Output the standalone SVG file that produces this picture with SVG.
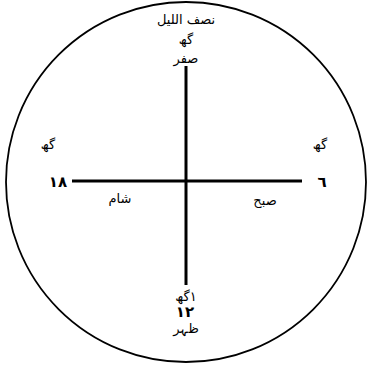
<svg xmlns="http://www.w3.org/2000/svg" width="372" height="365" viewBox="0 0 372 365">
<style>
text{font-family:"DejaVu Sans","Noto Sans",sans-serif;fill:#000;text-anchor:middle}
.l{font-size:13px}
.n{font-size:15px;font-weight:bold}
.ax{stroke:#000;stroke-width:3;fill:none}
</style>
<rect width="372" height="365" fill="#fff"/>
<g id="dial"><ellipse cx="186" cy="182" rx="180" ry="180" fill="none" stroke="#000" stroke-width="1.8"/></g>
<g id="connectors">
<line class="ax" x1="72" y1="181" x2="302" y2="181"/>
<line class="ax" x1="186" y1="66" x2="186" y2="285"/>
</g>
<g id="top">
<text class="l" x="186" y="24" direction="rtl">نصف اللیل</text>
<text class="l" x="186" y="44" direction="rtl">گھ</text>
<text class="l" x="186" y="63" direction="rtl">صفر</text>
</g>
<g id="bottom">
<text class="l" x="186" y="301" direction="rtl">١گھ</text>
<text class="n" x="185" y="317">١٢</text>
<text class="l" x="186" y="333" direction="rtl">ظہر</text>
</g>
<g id="left">
<text class="l" x="48" y="149" direction="rtl">گھ</text>
<text class="n" x="58" y="187">١٨</text>
<text class="l" x="120" y="203" direction="rtl">شام</text>
</g>
<g id="right">
<text class="l" x="320" y="149" direction="rtl">گھ</text>
<text class="n" x="322" y="187">٦</text>
<text class="l" x="265" y="205" direction="rtl">صبح</text>
</g>
</svg>
